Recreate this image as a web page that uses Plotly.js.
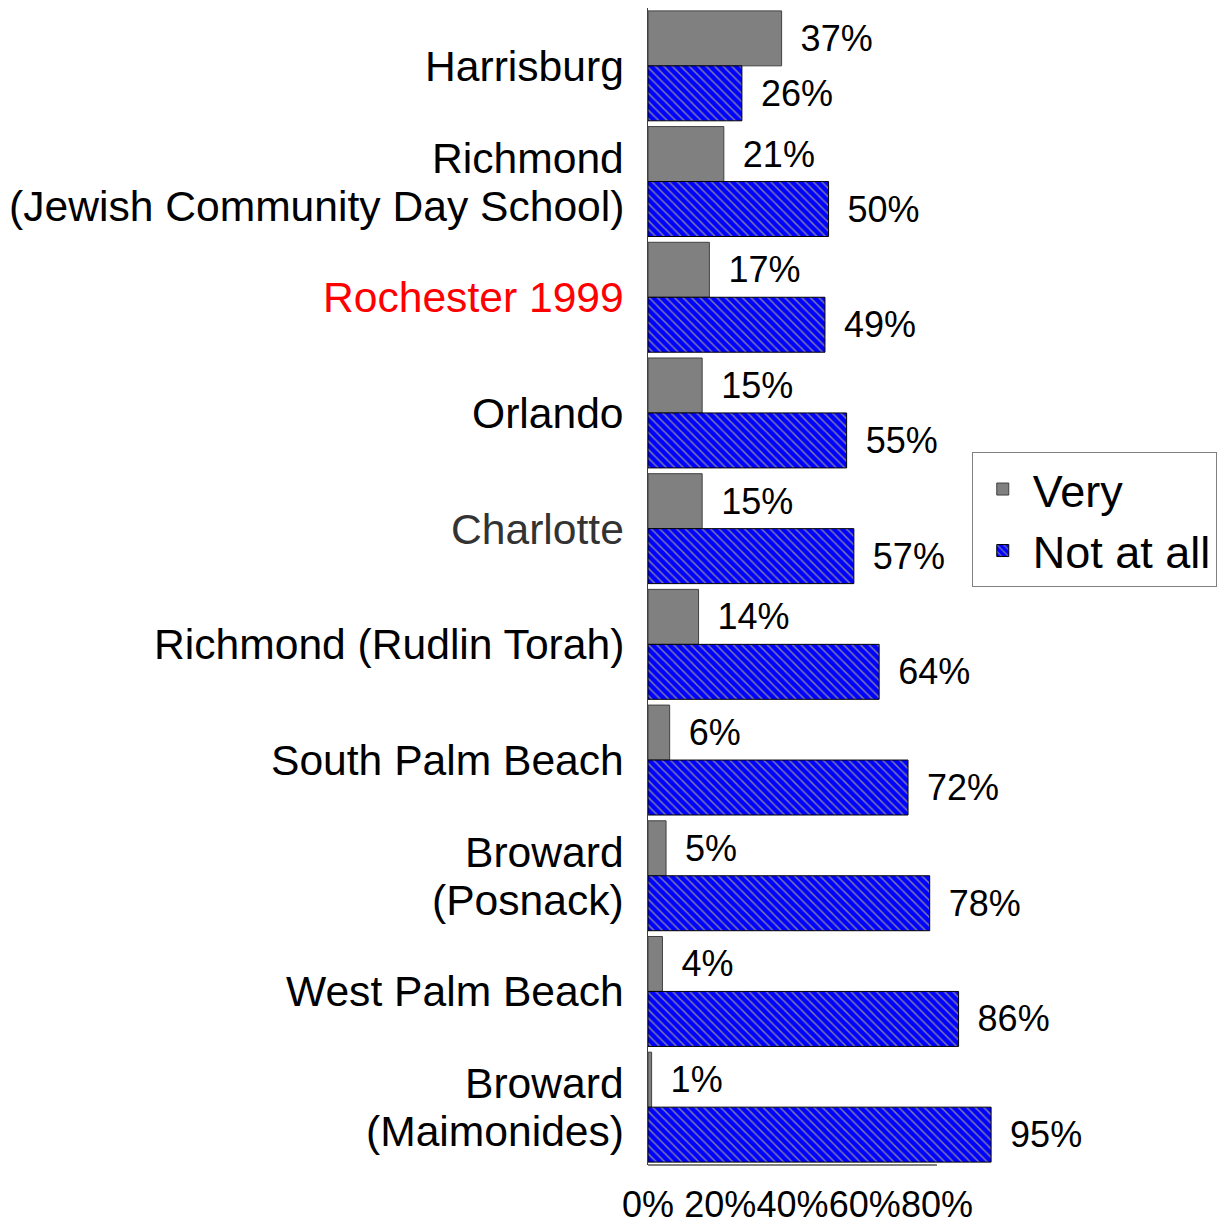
<!DOCTYPE html>
<html>
<head>
<meta charset="utf-8">
<script src="https://cdn.plot.ly/plotly-3.0.1.min.js"></script>
<style>html,body{margin:0;padding:0;background:#fff;}</style>
</head>
<body>
<div id="chart" style="width:1217px;height:1222px;"></div>
<script>
const categories = [
  "Harrisburg",
  "Richmond (JCDS)",
  "Rochester 1999",
  "Orlando",
  "Charlotte",
  "Richmond (Rudlin Torah)",
  "South Palm Beach",
  "Broward (Posnack)",
  "West Palm Beach",
  "Broward (Maimonides)"
];
const tickLabels = [
  ["Harrisburg"],
  ["Richmond", "(Jewish Community Day School)"],
  ["Rochester 1999"],
  ["Orlando"],
  ["Charlotte"],
  ["Richmond (Rudlin Torah)"],
  ["South Palm Beach"],
  ["Broward", "(Posnack)"],
  ["West Palm Beach"],
  ["Broward", "(Maimonides)"]
];
const tickColors = ["#000000", "#000000", "#ff0000", "#000000", "#333333",
                    "#000000", "#000000", "#000000", "#000000", "#000000"];
const veryValues = [0.37, 0.21, 0.17, 0.15, 0.15, 0.14, 0.06, 0.05, 0.04, 0.01];
const notAtAllValues = [0.26, 0.50, 0.49, 0.55, 0.57, 0.64, 0.72, 0.78, 0.86, 0.95];
const xTickVals = [0, 0.2, 0.4, 0.6, 0.8];
const xTickText = ["0%", "20%", "40%", "60%", "80%"];

const FONT = "Liberation Sans, Arial, sans-serif";
const LABEL_SIZE = 42.6;
const LABEL_LINE = 48;

const traces = [
  {
    type: "bar", orientation: "h", name: "Very",
    y: categories, x: veryValues,
    marker: {color: "#808080", line: {color: "#404040", width: 1}},
    texttemplate: "\u00a0\u2006%{x:.0%}", textposition: "outside", cliponaxis: false,
    textfont: {family: FONT, size: 36, color: "#000"},
    hoverinfo: "x+y"
  },
  {
    type: "bar", orientation: "h", name: "Not at all",
    y: categories, x: notAtAllValues,
    marker: {color: "#0000ff", line: {color: "#000000", width: 1},
             pattern: {shape: "\\", fgcolor: "#7a7aa8", bgcolor: "#0000ff", size: 6, solidity: 0.25}},
    texttemplate: "\u00a0\u2006%{x:.0%}", textposition: "outside", cliponaxis: false,
    textfont: {family: FONT, size: 36, color: "#000"},
    hoverinfo: "x+y"
  }
];

// category labels as annotations (to control line spacing of two-line labels)
const annotations = [];
categories.forEach((cat, i) => {
  const lines = tickLabels[i];
  lines.forEach((line, j) => {
    annotations.push({
      xref: "paper", yref: "y", x: 0, y: cat,
      xanchor: "right", yanchor: "middle", xshift: -22,
      yshift: -(j - (lines.length - 1) / 2) * LABEL_LINE,
      text: line, showarrow: false,
      font: {family: FONT, size: LABEL_SIZE, color: tickColors[i]}
    });
  });
});

const layout = {
  width: 1217, height: 1222,
  margin: {l: 648, r: 0, t: 8, b: 57, pad: 0},
  paper_bgcolor: "#fff", plot_bgcolor: "#fff",
  font: {family: FONT, color: "#000"},
  barmode: "group", bargap: 0.05, bargroupgap: 0,
  showlegend: true,
  legend: {
    x: 0.571, y: 0.616, xanchor: "left", yanchor: "top",
    bgcolor: "#fff", bordercolor: "#808080", borderwidth: 1,
    font: {family: FONT, size: 45, color: "#000"},
    traceorder: "normal", itemwidth: 50
  },
  xaxis: {
    range: [0, 1.57], tickvals: xTickVals, ticktext: xTickText,
    showgrid: false, zeroline: false, showline: false, ticks: "",
    tickangle: 0, automargin: false,
    tickfont: {family: FONT, size: 36, color: "#000"},
    ticklabelstandoff: 15, fixedrange: true
  },
  yaxis: {
    type: "category", categoryorder: "array", categoryarray: categories,
    autorange: "reversed", showticklabels: false,
    showgrid: false, zeroline: false, showline: true, linecolor: "#404040", linewidth: 1,
    ticks: "", fixedrange: true
  },
  annotations: annotations,
  shapes: [
    {type: "line", xref: "x", yref: "paper", x0: 0, x1: 0.8, y0: 0, y1: 0,
     line: {color: "#808080", width: 2}}
  ]
};

Plotly.newPlot("chart", traces, layout, {displayModeBar: false, staticPlot: true});
</script>
</body>
</html>
